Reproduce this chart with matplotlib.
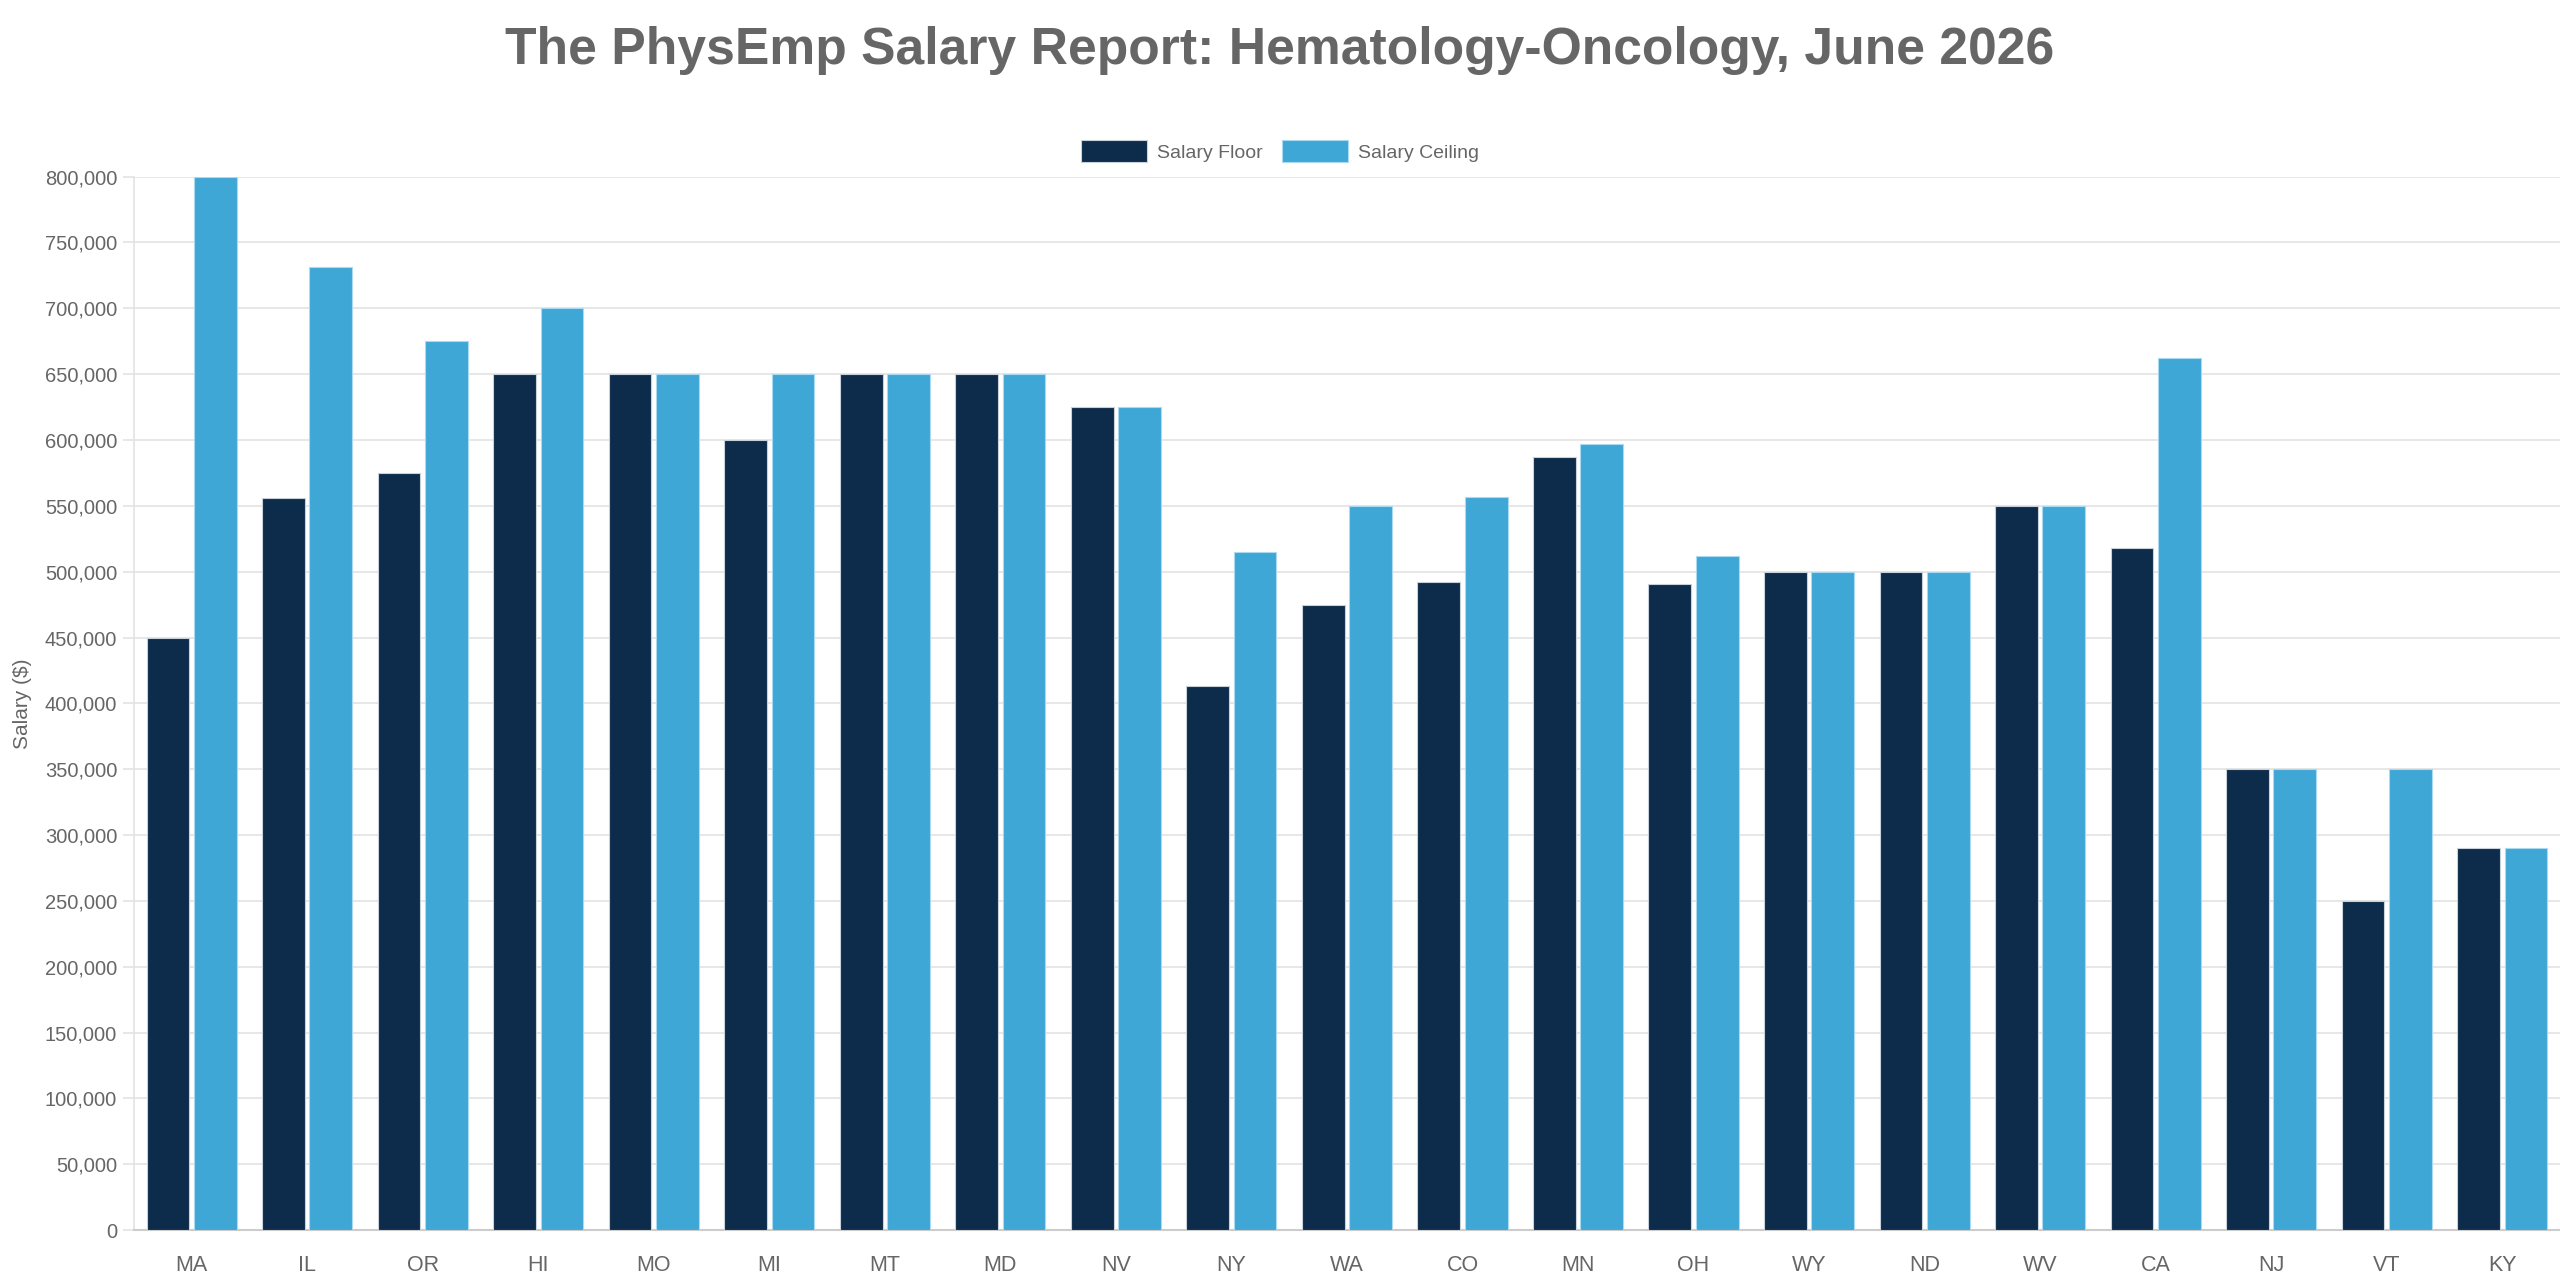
import matplotlib
matplotlib.use('Agg')
import matplotlib.pyplot as plt
from matplotlib.ticker import FuncFormatter
import numpy as np

plt.rcParams['font.family'] = ['Liberation Sans', 'DejaVu Sans']

# Data
states = ['MA', 'IL', 'OR', 'HI', 'MO', 'MI', 'MT', 'MD', 'NV', 'NY', 'WA',
          'CO', 'MN', 'OH', 'WY', 'ND', 'WV', 'CA', 'NJ', 'VT', 'KY']
salary_floor = [450000, 556000, 575000, 650000, 650000, 600000, 650000, 650000,
                625000, 413000, 475000, 492000, 587000, 491000, 500000, 500000,
                550000, 518000, 350000, 250000, 290000]
salary_ceiling = [800000, 731000, 675000, 700000, 650000, 650000, 650000, 650000,
                  625000, 515000, 550000, 557000, 597000, 512000, 500000, 500000,
                  550000, 662000, 350000, 350000, 290000]

floor_color = '#0d2b4a'
ceil_color = '#3fa7d6'
text_color = '#666666'

x = np.arange(len(states))
width = 0.37

fig = plt.figure(figsize=(25.6, 12.8), dpi=100)
ax = fig.add_axes([0.0523, 0.039, 0.9477, 0.823])

ax.bar(x - 0.205, salary_floor, width, color=floor_color, edgecolor='#c8d0da',
       linewidth=0.8, label='Salary Floor', zorder=3)
ax.bar(x + 0.205, salary_ceiling, width, color=ceil_color, edgecolor='#a9daf2',
       linewidth=0.8, label='Salary Ceiling', zorder=3)

ax.set_xlim(-0.5, len(states) - 0.5)
ax.set_ylim(0, 800000)
ax.set_yticks(np.arange(0, 800001, 50000))
ax.yaxis.set_major_formatter(FuncFormatter(lambda v, p: '{:,.0f}'.format(v)))
ax.set_xticks(x)
ax.set_xticklabels(states)

ax.grid(axis='y', color='#e3e3e3', linewidth=1.2, zorder=0)
ax.set_axisbelow(True)
for side in ['top', 'right']:
    ax.spines[side].set_visible(False)
ax.spines['left'].set_color('#e3e3e3')
ax.spines['left'].set_linewidth(1.2)
ax.spines['bottom'].set_color('#cccccc')
ax.spines['bottom'].set_linewidth(1.5)

ax.tick_params(axis='y', length=8, width=1.2, color='#e3e3e3', pad=4,
               labelsize=14.5, labelcolor=text_color)
ax.tick_params(axis='x', length=0, pad=18, labelsize=15.5, labelcolor=text_color)

fig.text(0.005, 0.45, 'Salary ($)', rotation=90, va='center', ha='left',
         fontsize=15, color=text_color)

fig.suptitle('The PhysEmp Salary Report: Hematology-Oncology, June 2026',
             x=0.5, y=0.98, va='top', fontsize=37.2, fontweight='bold', color=text_color)

fig.legend(loc='center', bbox_to_anchor=(0.5, 0.882), ncol=2, frameon=False,
           fontsize=14, labelcolor=text_color, handlelength=3.4, handleheight=1.3,
           handletextpad=0.5, columnspacing=1.0)

plt.savefig('out.png', dpi=100)
